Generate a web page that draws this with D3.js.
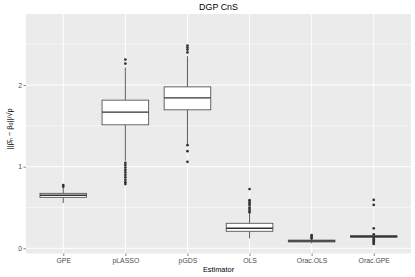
<!DOCTYPE html>
<html lang="en">
<head>
<meta charset="utf-8" />
<title>DGP CnS</title>
<style>
  body { margin: 0; background: #fff; }
  svg text { font-family: "Liberation Sans", Arial, sans-serif; }
</style>
</head>
<body>
<div id="graph"></div>
<script src="https://d3js.org/d3.v7.min.js"></script>
<script>
var W = 415, H = 277;
var margin = { top: 14, right: 4, bottom: 23.5, left: 26 };
var width = W - margin.left - margin.right,
    height = H - margin.top - margin.bottom;

// estimators on the x axis
var estimators = ["GPE", "pLASSO", "pGDS", "OLS", "Orac.OLS", "Orac.GPE"];
// box stats: lower whisker, q1, median, q3, upper whisker
var whiskLo = [0.555, 1.072, 1.273, 0.122, 0.060, 0.130];
var q1      = [0.624, 1.513, 1.697, 0.208, 0.078, 0.135];
var med     = [0.649, 1.668, 1.843, 0.245, 0.089, 0.145];
var q3      = [0.673, 1.815, 1.978, 0.306, 0.100, 0.155];
var whiskHi = [0.740, 2.215, 2.354, 0.428, 0.110, 0.160];
// outliers per estimator
var outliers = [
  [0.775, 0.755],
  [2.313, 2.264, 1.048, 1.02, 0.99, 0.96, 0.93, 0.90, 0.87, 0.84, 0.81, 0.787],
  [2.485, 2.46, 2.435, 2.40, 1.264, 1.19, 1.06],
  [0.726, 0.59, 0.57, 0.55, 0.53, 0.50, 0.48, 0.46, 0.44],
  [0.163, 0.15, 0.135, 0.12],
  [0.592, 0.531, 0.245, 0.172, 0.125, 0.11, 0.095, 0.08, 0.065, 0.053]
];
var yTicks = [0, 1, 2];
var yMinor = [0.5, 1.5, 2.5];

var svg = d3.select("#graph").append("svg")
  .attr("width", W).attr("height", H);

var g = svg.append("g")
  .attr("transform", "translate(" + margin.left + "," + margin.top + ")");

var x = d3.scalePoint().domain(estimators).range([0, width]).padding(0.6);
var step = x.step();
var y = d3.scaleLinear().domain([-0.064, 2.871]).range([height, 0]);

// panel
g.append("rect").attr("width", width).attr("height", height).attr("fill", "#ebebeb");

// minor grid
g.selectAll(".minor").data(yMinor).enter().append("line")
  .attr("x1", 0).attr("x2", width)
  .attr("y1", d => y(d)).attr("y2", d => y(d))
  .attr("stroke", "#fff").attr("stroke-width", 0.5);

// major grid
g.selectAll(".majy").data(yTicks).enter().append("line")
  .attr("x1", 0).attr("x2", width)
  .attr("y1", d => y(d)).attr("y2", d => y(d))
  .attr("stroke", "#fff").attr("stroke-width", 1);
g.selectAll(".majx").data(estimators).enter().append("line")
  .attr("x1", d => x(d)).attr("x2", d => x(d))
  .attr("y1", 0).attr("y2", height)
  .attr("stroke", "#fff").attr("stroke-width", 1);

// boxes
var boxes = estimators.map((e, i) => ({
  e: e, lo: whiskLo[i], q1: q1[i], med: med[i], q3: q3[i], hi: whiskHi[i], out: outliers[i]
}));
var bw = step * 0.75;
var col = "#333333";

var b = g.selectAll(".box").data(boxes).enter().append("g");
b.append("line")
  .attr("x1", d => x(d.e)).attr("x2", d => x(d.e))
  .attr("y1", d => y(d.hi)).attr("y2", d => y(d.q3))
  .attr("stroke", col).attr("stroke-width", 0.8);
b.append("line")
  .attr("x1", d => x(d.e)).attr("x2", d => x(d.e))
  .attr("y1", d => y(d.q1)).attr("y2", d => y(d.lo))
  .attr("stroke", col).attr("stroke-width", 0.8);
b.append("rect")
  .attr("x", d => x(d.e) - bw / 2).attr("width", bw)
  .attr("y", d => y(d.q3)).attr("height", d => Math.max(0.5, y(d.q1) - y(d.q3)))
  .attr("fill", "#fff").attr("stroke", "#555").attr("stroke-width", 0.9);
b.append("line")
  .attr("x1", d => x(d.e) - bw / 2).attr("x2", d => x(d.e) + bw / 2)
  .attr("y1", d => y(d.med)).attr("y2", d => y(d.med))
  .attr("stroke", col).attr("stroke-width", 1.4);
b.selectAll("circle").data(d => d.out.map(v => ({ e: d.e, v: v }))).enter().append("circle")
  .attr("cx", d => x(d.e)).attr("cy", d => y(d.v)).attr("r", 1.35)
  .attr("fill", col);

// axes
var xa = g.append("g").attr("transform", "translate(0," + height + ")")
  .call(d3.axisBottom(x).tickSize(2.5).tickPadding(2));
var ya = g.append("g")
  .call(d3.axisLeft(y).tickValues(yTicks).tickFormat(d3.format("d")).tickSize(2.5).tickPadding(1.5));
[xa, ya].forEach(a => {
  a.select(".domain").remove();
  a.selectAll("line").attr("stroke", "#333").attr("stroke-width", 0.6);
  a.selectAll("text").attr("fill", "#4d4d4d").style("font-size", "6.9px")
    .style("font-family", "'Liberation Sans', Arial, sans-serif");
});

// title
svg.append("text")
  .attr("x", margin.left + width / 2).attr("y", 10)
  .attr("text-anchor", "middle").attr("fill", "#000")
  .style("font-size", "8.9px").text("DGP CnS");

// x title
svg.append("text")
  .attr("x", margin.left + width / 2).attr("y", 271.5)
  .attr("text-anchor", "middle").attr("fill", "#000")
  .style("font-size", "7.4px").text("Estimator");

// y title
var yt = svg.append("text")
  .attr("transform", "translate(11.5," + (margin.top + height / 2 - 5) + ") rotate(-90)")
  .attr("text-anchor", "middle").attr("fill", "#000")
  .style("font-size", "7.4px");
yt.append("tspan").text("||\u03B2\u0302");
yt.append("tspan").attr("dy", 1.6).style("font-size", "5.3px").text("n");
yt.append("tspan").attr("dy", -1.6).text(" \u2212 \u03B2");
yt.append("tspan").attr("dy", 1.6).style("font-size", "5.3px").text("0");
yt.append("tspan").attr("dy", -1.6).text("||/\u221Ap");
</script>
</body>
</html>
